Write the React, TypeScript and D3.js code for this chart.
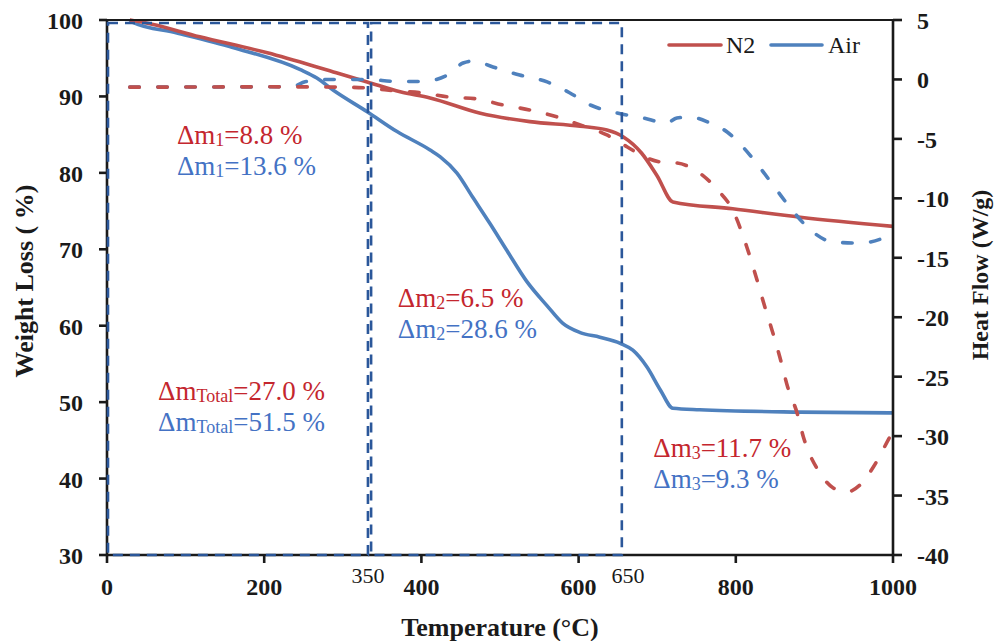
import React from 'react';
import * as d3 from 'd3';

// ---- data ----
const xTicks = [0, 200, 400, 600, 800, 1000];
const weightTicks = [30, 40, 50, 60, 70, 80, 90, 100];
const heatTicks = [5, 0, -5, -10, -15, -20, -25, -30, -35, -40];

const n2WeightT = [29, 46, 118, 204, 288, 331, 373, 411, 475, 538, 602, 636, 657, 680, 700, 720, 796, 882, 1000];
const n2Weight = [100, 99.7, 97.8, 95.7, 93.2, 91.9, 90.6, 89.8, 87.8, 86.7, 86.1, 85.6, 84.7, 82.6, 79.6, 76.2, 75.3, 74.2, 73.0];

const airWeightT = [29, 33, 89, 160, 246, 267, 288, 331, 369, 411, 424, 445, 466, 487, 509, 534, 560, 580, 602, 627, 653, 669, 687, 704, 720, 754, 882, 1000];
const airWeight = [100, 99.7, 98.3, 96.4, 93.5, 92.4, 90.8, 88.0, 85.4, 83.0, 82.1, 80.0, 76.7, 73.4, 69.8, 65.8, 62.6, 60.3, 59.1, 58.5, 57.7, 56.8, 54.6, 51.6, 49.2, 49.0, 48.7, 48.6];

const n2HeatT = [29, 100, 200, 300, 331, 369, 402, 436, 471, 504, 538, 573, 602, 636, 662, 687, 705, 725, 754, 777, 796, 814, 827, 837, 846, 856, 866, 878, 886, 907, 924, 941, 958, 975, 996, 1000];
const n2Heat = [-0.65, -0.64, -0.62, -0.65, -0.72, -0.97, -1.14, -1.48, -1.64, -2.15, -2.57, -3.16, -3.83, -4.67, -5.68, -6.61, -6.95, -7.03, -7.87, -9.3, -10.98, -14.09, -16.87, -19.14, -21.07, -23.35, -25.87, -28.06, -30.07, -33.1, -34.36, -34.7, -34.11, -32.6, -30.07, -29.6];

const airHeatT = [29, 100, 200, 236, 252, 284, 331, 369, 402, 433, 453, 466, 491, 525, 560, 589, 615, 649, 682, 712, 725, 742, 767, 789, 809, 831, 852, 873, 894, 924, 958, 992, 1000];
const airHeat = [-0.65, -0.64, -0.62, -0.6, -0.2, 0, 0, -0.17, -0.17, 0.37, 1.38, 1.55, 1.05, 0.37, -0.21, -1.14, -2.15, -2.82, -3.24, -3.66, -3.24, -3.16, -3.66, -4.42, -5.68, -7.45, -9.3, -11.1, -12.6, -13.67, -13.76, -13.2, -12.92];

// stage boundaries (temperature) and labels
const stage1 = [0, 332];
const stage2 = [336, 655];
const stageTop = 99.6;
const boundaryLabels = ['350', '650'];
const boundaryLabelT = [332, 663];

const seriesNames = ['N2', 'Air'];

type Ann = { sub: string; red: string; blue: string; t: number; w: number };
const annotations: Ann[] = [
  { sub: '1', red: '=8.8 %', blue: '=13.6 %', t: 89, w: 83.8 },
  { sub: '2', red: '=6.5 %', blue: '=28.6 %', t: 370, w: 62.4 },
  { sub: 'Total', red: '=27.0 %', blue: '=51.5 %', t: 65, w: 50.3 },
  { sub: '3', red: '=11.7 %', blue: '=9.3 %', t: 695, w: 42.8 },
];

const RED_LINE = '#C0504D';
const BLUE_LINE = '#4F81BD';
const RED_TEXT = '#C4262E';
const BLUE_TEXT = '#4472C4';
const BOX = '#2B579A';
const AX = '#1a1a1a';
const FONT = '"Liberation Serif", "Times New Roman", serif';

const zip = (a: number[], b: number[]) => a.map((v, i) => [v, b[i]] as [number, number]);

export default function App() {
  const x = d3.scaleLinear().domain([0, 1000]).range([107, 893]);
  const yL = d3.scaleLinear().domain([30, 100]).range([555, 20]);
  const yR = d3.scaleLinear().domain([-40, 5]).range([555, 20]);

  const lineL = d3.line<[number, number]>().x((d) => x(d[0])).y((d) => yL(d[1])).curve(d3.curveMonotoneX);
  const lineR = d3.line<[number, number]>().x((d) => x(d[0])).y((d) => yR(d[1])).curve(d3.curveMonotoneX);

  const dashData = '9.5 18.5';
  const boxDash = '10 7';

  const annSize = 27;
  const subSize = 18;

  const renderAnn = (a: Ann, color: string, value: string, dyLine: number) => (
    <text x={x(a.t)} y={yL(a.w) + dyLine} fill={color} fontSize={annSize} fontFamily={FONT}>
      <tspan>Δm</tspan>
      <tspan fontSize={subSize} dy={2}>{a.sub}</tspan>
      <tspan dy={-2}>{value}</tspan>
    </text>
  );

  return (
    <div style={{ position: 'absolute', left: 0, top: 0 }}>
      <svg width={994} height={641} style={{ display: 'block', background: '#fff' }}>
        {/* data lines */}
        <path d={lineL(zip(airWeightT, airWeight)) || ''} fill="none" stroke={BLUE_LINE} strokeWidth={3.6} strokeLinejoin="round" />
        <path d={lineL(zip(n2WeightT, n2Weight)) || ''} fill="none" stroke={RED_LINE} strokeWidth={3.6} strokeLinejoin="round" />
        <path d={lineR(zip(airHeatT, airHeat)) || ''} fill="none" stroke={BLUE_LINE} strokeWidth={3.6} strokeDasharray={dashData} strokeLinecap="round" />
        <path d={lineR(zip(n2HeatT, n2Heat)) || ''} fill="none" stroke={RED_LINE} strokeWidth={3.6} strokeDasharray={dashData} strokeLinecap="round" />

        {/* axes */}
        <line x1={x(0)} x2={x(1000)} y1={yL(100)} y2={yL(100)} stroke={AX} strokeWidth={2} />
        <line x1={x(0)} x2={x(0)} y1={yL(100) - 1} y2={yL(30) + 1} stroke={AX} strokeWidth={2.6} />
        <line x1={x(1000)} x2={x(1000)} y1={yL(100) - 1} y2={yL(30) + 1} stroke={AX} strokeWidth={2.6} />
        <line x1={x(0) - 1} x2={x(1000) + 1} y1={yL(30)} y2={yL(30)} stroke={AX} strokeWidth={2.6} />

        {weightTicks.map((t) => (
          <g key={'wl' + t}>
            <line x1={x(0) - 8} x2={x(0)} y1={yL(t)} y2={yL(t)} stroke={AX} strokeWidth={2.6} />
            <text x={83} y={yL(t) + 9} textAnchor="end" fontSize={24} fontWeight="bold" fontFamily={FONT} fill={AX}>{t}</text>
          </g>
        ))}
        {heatTicks.map((t) => (
          <g key={'hr' + t}>
            <line x1={x(1000)} x2={x(1000) + 9} y1={yR(t)} y2={yR(t)} stroke={AX} strokeWidth={2.6} />
            <text x={917} y={yR(t) + 9} textAnchor="start" fontSize={24} fontWeight="bold" fontFamily={FONT} fill={AX}>{t}</text>
          </g>
        ))}
        {xTicks.map((t) => (
          <g key={'xt' + t}>
            <line x1={x(t)} x2={x(t)} y1={yL(30)} y2={yL(30) + 8} stroke={AX} strokeWidth={2.6} />
            <text x={x(t)} y={595} textAnchor="middle" fontSize={24} fontWeight="bold" fontFamily={FONT} fill={AX}>{t}</text>
          </g>
        ))}

        {/* stage boxes */}
        <rect x={x(stage1[0]) + 1} y={yL(stageTop)} width={x(stage1[1]) - x(stage1[0]) - 1} height={yL(30) - yL(stageTop)} fill="none" stroke={BOX} strokeWidth={2.6} strokeDasharray={boxDash} />
        <rect x={x(stage2[0])} y={yL(stageTop)} width={x(stage2[1]) - x(stage2[0])} height={yL(30) - yL(stageTop)} fill="none" stroke={BOX} strokeWidth={2.6} strokeDasharray={boxDash} />

        {boundaryLabels.map((l, i) => (
          <text key={l} x={x(boundaryLabelT[i])} y={583} textAnchor="middle" fontSize={22} fontFamily={FONT} fill={AX}>{l}</text>
        ))}

        {/* axis titles */}
        <text x={500} y={636} textAnchor="middle" fontSize={26} fontWeight="bold" fontFamily={FONT} fill={AX}>Temperature (°C)</text>
        <text transform={`translate(33,${281}) rotate(-90)`} textAnchor="middle" fontSize={26} fontWeight="bold" fontFamily={FONT} fill={AX}>Weight Loss ( %)</text>
        <text transform={`translate(988,${275}) rotate(-90)`} textAnchor="middle" fontSize={24} fontWeight="bold" fontFamily={FONT} fill={AX}>Heat Flow (W/g)</text>

        {/* legend */}
        <line x1={669} x2={721} y1={45} y2={45} stroke={RED_LINE} strokeWidth={3.6} strokeLinecap="round" />
        <text x={726} y={53} fontSize={24} fontFamily={FONT} fill={AX}>{seriesNames[0]}</text>
        <line x1={771} x2={822} y1={45} y2={45} stroke={BLUE_LINE} strokeWidth={3.6} strokeLinecap="round" />
        <text x={828} y={53} fontSize={24} fontFamily={FONT} fill={AX}>{seriesNames[1]}</text>

        {/* annotations */}
        {annotations.map((a) => (
          <g key={a.sub}>
            {renderAnn(a, RED_TEXT, a.red, 0)}
            {renderAnn(a, BLUE_TEXT, a.blue, 31)}
          </g>
        ))}
      </svg>
    </div>
  );
}
